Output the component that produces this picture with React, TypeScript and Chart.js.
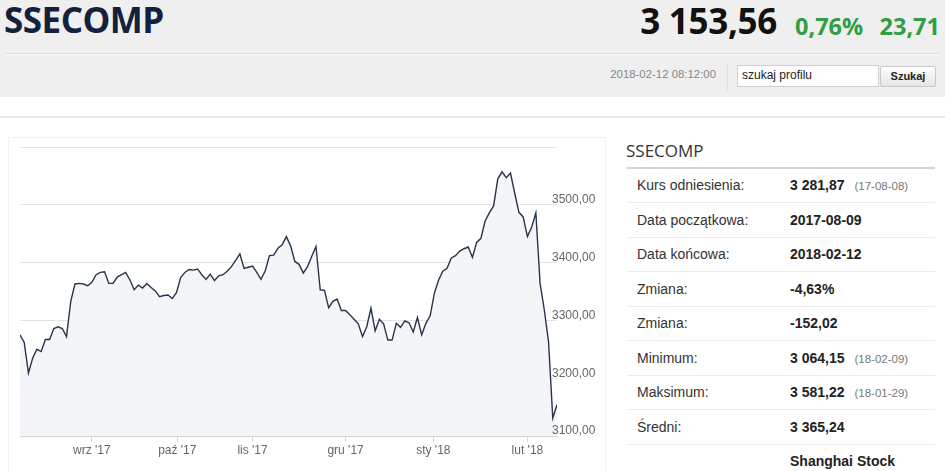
import React, { useEffect, useRef } from "react";
import { Chart, registerables } from "chart.js";

Chart.register(...registerables);

// ---- data ----
const startDate = "2017-08-09";
const endDate = "2018-02-12";
const marketHolidays = ["2017-10-02", "2017-10-03", "2017-10-04", "2017-10-05", "2017-10-06", "2018-01-01"];

const closeValues = [
  3275, 3262, 3209, 3235, 3250, 3246, 3267, 3267, 3286, 3289,
  3286, 3272, 3333, 3363, 3364, 3363, 3360, 3366, 3379, 3383,
  3384, 3364, 3364, 3375, 3379, 3383, 3370, 3353, 3361, 3356,
  3364, 3357, 3351, 3341, 3343, 3344, 3338, 3348, 3374, 3383,
  3388, 3387, 3389, 3379, 3371, 3380, 3369, 3377, 3379, 3385,
  3393, 3404, 3415, 3390, 3392, 3394, 3383, 3371, 3386, 3412,
  3413, 3425, 3431, 3445, 3429, 3402, 3397, 3382, 3393, 3411,
  3428, 3353, 3352, 3322, 3333, 3337, 3317, 3317, 3310, 3302,
  3294, 3272, 3289, 3321, 3282, 3302, 3294, 3266, 3266, 3295,
  3288, 3299, 3296, 3280, 3305, 3275, 3295, 3308, 3347, 3370,
  3385, 3390, 3408, 3412, 3420, 3424, 3427, 3409, 3435, 3442,
  3472, 3486, 3498, 3545, 3557, 3547, 3555, 3520, 3487, 3479,
  3445, 3461, 3486, 3364, 3318, 3263, 3131, 3154,
];

const monthStarts = ["2017-09-01", "2017-10-01", "2017-11-01", "2017-12-01", "2018-01-01", "2018-02-01"];
const monthLabels = ["wrz '17", "paź '17", "lis '17", "gru '17", "sty '18", "lut '18"];
const yMin = 3100;
const yMax = 3600;
const yStep = 100;

const statLabels = ["Kurs odniesienia:", "Data początkowa:", "Data końcowa:", "Zmiana:", "Zmiana:", "Minimum:", "Maksimum:", "Średni:", ""];
const statValues = ["3 281,87", "2017-08-09", "2018-02-12", "-4,63%", "-152,02", "3 064,15", "3 581,22", "3 365,24", "Shanghai Stock"];
const statDates = ["(17-08-08)", "", "", "", "", "(18-02-09)", "(18-01-29)", "", ""];

const symbol = "SSECOMP";
const lastPrice = "3 153,56";
const changePct = "0,76%";
const changeAbs = "23,71";
const timestamp = "2018-02-12 08:12:00";

// ---- helpers ----
const DAY = 86400000;
function parseDay(s: string) {
  const [y, m, d] = s.split("-").map(Number);
  return Date.UTC(y, m - 1, d);
}
function buildTradingDays() {
  const out: number[] = [];
  const hol = new Set(marketHolidays.map(parseDay));
  for (let t = parseDay(startDate); t <= parseDay(endDate); t += DAY) {
    const wd = new Date(t).getUTCDay();
    if (wd === 0 || wd === 6 || hol.has(t)) continue;
    out.push(t);
  }
  return out;
}
const tradingDays = buildTradingDays();

function monthPositions() {
  return monthStarts.map((m) => {
    const t = parseDay(m);
    const idx = tradingDays.findIndex((d) => d >= t);
    if (tradingDays[idx] === t || idx <= 0) return idx;
    const prev = tradingDays[idx - 1];
    return idx - 1 + (t - prev) / (tradingDays[idx] - prev);
  });
}

const FONT = "'Liberation Sans', Arial, sans-serif";
const fmtY = (v: number) => v.toFixed(2).replace(".", ",");

// draws the right-hand value labels over the plot edge (Highcharts-like placement)
const yLabelPlugin = {
  id: "yLabels",
  afterDatasetsDraw(chart: any) {
    const scale = chart.scales.y;
    const ctx = chart.ctx;
    ctx.save();
    ctx.font = `12px ${FONT}`;
    ctx.fillStyle = "#666";
    ctx.textAlign = "left";
    ctx.textBaseline = "middle";
    scale.ticks.forEach((t: any) => {
      if (t.value >= yMax) return;
      ctx.fillText(fmtY(t.value), chart.chartArea.right - 5, scale.getPixelForValue(t.value) - 5);
    });
    ctx.restore();
  },
};

function PriceChart() {
  const ref = useRef<HTMLCanvasElement | null>(null);
  useEffect(() => {
    if (!ref.current) return;
    const positions = monthPositions();
    const chart = new Chart(ref.current, {
      type: "line",
      data: {
        datasets: [
          {
            data: closeValues.map((v, i) => ({ x: i, y: v })),
            borderColor: "#27344a",
            borderWidth: 1.4,
            backgroundColor: "#f3f5f8",
            fill: "start",
            pointRadius: 0,
            tension: 0,
          },
        ],
      },
      options: {
        animation: false,
        responsive: false,
        devicePixelRatio: 1,
        layout: { padding: { left: 12, top: 10, right: 5, bottom: 9 } },
        plugins: { legend: { display: false }, tooltip: { enabled: false } },
        scales: {
          x: {
            type: "linear",
            min: 0,
            max: tradingDays.length - 1,
            afterBuildTicks: (scale: any) => {
              scale.ticks = positions.map((v) => ({ value: v }));
            },
            afterFit: (scale: any) => {
              scale.height = 24;
            },
            ticks: {
              autoSkip: false,
              maxRotation: 0,
              padding: 1,
              color: "#666",
              font: { family: FONT, size: 12 },
              callback: (_v: any, i: number) => monthLabels[i],
            },
            grid: { drawOnChartArea: false, tickLength: 6, color: "#ccd6eb" },
            border: { display: true, color: "#d6d6d6" },
          },
          y: {
            position: "right",
            min: yMin,
            max: yMax,
            afterFit: (scale: any) => {
              scale.width = 38;
            },
            ticks: { stepSize: yStep, display: false },
            grid: { color: "#e3e3e3", drawTicks: false },
            border: { display: false },
          },
        },
      },
      plugins: [yLabelPlugin],
    } as any);
    return () => chart.destroy();
  }, []);
  return <canvas ref={ref} width={592} height={332} style={{ position: "absolute", left: 8, top: 137 }} />;
}

export default function App() {
  const abs = (o: any) => ({ position: "absolute" as const, ...o });
  return (
    <div style={abs({ left: 0, top: 0, width: 945, height: 471, overflow: "hidden", background: "#fff", fontFamily: FONT })}>
      {/* header */}
      <div style={abs({ left: 0, top: 0, width: 945, height: 97, background: "#efefef" })} />
      <div style={abs({ left: 5, top: 53, width: 935, height: 1, background: "#dcdcdc" })} />
      <div style={abs({ left: 5, top: 54, width: 935, height: 1, background: "#f8f8f8" })} />
      <div style={abs({ left: 4, top: -4, fontFamily: "'Open Sans', sans-serif", fontWeight: 700, fontSize: 35, color: "#13213f", whiteSpace: "nowrap", letterSpacing: -0.5 })}>{symbol}</div>
      <div style={abs({ right: 168, top: -3, fontFamily: "'Open Sans', sans-serif", fontWeight: 700, fontSize: 35, color: "#111", whiteSpace: "nowrap", letterSpacing: -0.3 })}>{lastPrice}</div>
      <div style={abs({ left: 795, top: 10, fontFamily: "'Open Sans', sans-serif", fontWeight: 700, fontSize: 23.5, color: "#2f9e44", whiteSpace: "nowrap" })}>{changePct}</div>
      <div style={abs({ right: 5, top: 10, fontFamily: "'Open Sans', sans-serif", fontWeight: 700, fontSize: 23.5, color: "#2f9e44", whiteSpace: "nowrap" })}>{changeAbs}</div>
      <div style={abs({ right: 229, top: 68, fontSize: 11.4, color: "#888", whiteSpace: "nowrap" })}>{timestamp}</div>
      <div style={abs({ left: 727, top: 63, width: 1, height: 27, background: "#dedede" })} />
      <div style={abs({ left: 737, top: 65, width: 136, height: 20, background: "#fff", border: "1px solid #cfcfcf", fontSize: 12, color: "#222", lineHeight: "18px", paddingLeft: 4, boxSizing: "content-box" })}>szukaj profilu</div>
      <div style={abs({ left: 880, top: 66, width: 54, height: 19, background: "linear-gradient(#ffffff, #e4e4e4)", border: "1px solid #c8c8c8", fontSize: 11, fontWeight: 700, color: "#222", lineHeight: "19px", textAlign: "center", borderRadius: 2 })}>Szukaj</div>
      <div style={abs({ left: 0, top: 116, width: 945, height: 2, background: "#e8e8e8" })} />

      {/* chart box */}
      <div style={abs({ left: 8, top: 137, width: 596, height: 340, border: "1px solid #f1f1f1" })} />
      <PriceChart />

      {/* right panel */}
      <div style={abs({ left: 626, top: 139, fontFamily: "'Open Sans', sans-serif", fontSize: 17, color: "#333", whiteSpace: "nowrap" })}>{symbol}</div>
      <div style={abs({ left: 627, top: 167, width: 308, height: 2, background: "#d4d4d4" })} />
      {statLabels.map((lab, i) => {
        const cy = 185 + i * 34.5;
        return (
          <React.Fragment key={i}>
            <div style={abs({ left: 637, top: cy - 9, fontSize: 14, color: "#333", whiteSpace: "nowrap", lineHeight: "18px" })}>{lab}</div>
            <div style={abs({ left: 790, top: cy - 9, fontSize: 14, fontWeight: 700, color: "#222", whiteSpace: "nowrap", lineHeight: "18px" })}>
              {statValues[i]}
              {statDates[i] ? <span style={{ fontSize: 11.5, fontWeight: 400, color: "#777", marginLeft: 10 }}>{statDates[i]}</span> : null}
            </div>
            {i < statLabels.length - 1 ? <div style={abs({ left: 627, top: Math.round(cy + 17), width: 308, height: 1, background: "#ececec" })} /> : null}
          </React.Fragment>
        );
      })}
    </div>
  );
}
